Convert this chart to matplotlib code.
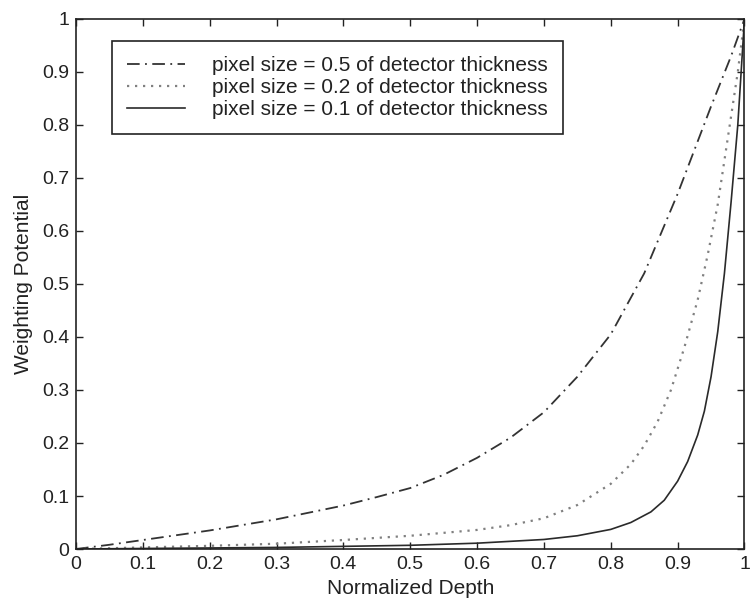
import matplotlib
matplotlib.use('Agg')
import matplotlib.pyplot as plt

# weighting potential vs normalized depth
depth_05 = [0, 0.05, 0.1, 0.2, 0.3, 0.4, 0.45, 0.5, 0.55, 0.6, 0.65, 0.7, 0.75, 0.8, 0.85, 0.9, 0.95, 0.98, 1.0]
pot_05 = [0, 0.008, 0.017, 0.035, 0.056, 0.082, 0.098, 0.115, 0.14, 0.172, 0.21, 0.258, 0.325, 0.405, 0.52, 0.67, 0.835, 0.93, 1.0]

depth_02 = [0, 0.1, 0.2, 0.3, 0.4, 0.5, 0.6, 0.65, 0.7, 0.75, 0.8, 0.83, 0.85, 0.87, 0.89, 0.91, 0.93, 0.945, 0.96, 0.975, 0.99, 1.0]
pot_02 = [0, 0.003, 0.006, 0.01, 0.017, 0.025, 0.036, 0.045, 0.058, 0.083, 0.123, 0.16, 0.195, 0.24, 0.3, 0.38, 0.47, 0.555, 0.65, 0.775, 0.9, 1.0]

depth_01 = [0, 0.3, 0.5, 0.6, 0.7, 0.75, 0.8, 0.83, 0.86, 0.88, 0.9, 0.915, 0.93, 0.94, 0.95, 0.96, 0.97, 0.98, 0.99, 1.0]
pot_01 = [0, 0.003, 0.007, 0.011, 0.018, 0.025, 0.037, 0.05, 0.07, 0.092, 0.128, 0.165, 0.215, 0.26, 0.325, 0.41, 0.52, 0.655, 0.8, 1.0]

labels = ['pixel size = 0.5 of detector thickness',
          'pixel size = 0.2 of detector thickness',
          'pixel size = 0.1 of detector thickness']
xticks = [0, 0.1, 0.2, 0.3, 0.4, 0.5, 0.6, 0.7, 0.8, 0.9, 1]
xticklabels = ['0', '0.1', '0.2', '0.3', '0.4', '0.5', '0.6', '0.7', '0.8', '0.9', '1']
yticks = [0, 0.1, 0.2, 0.3, 0.4, 0.5, 0.6, 0.7, 0.8, 0.9, 1]
yticklabels = ['0', '0.1', '0.2', '0.3', '0.4', '0.5', '0.6', '0.7', '0.8', '0.9', '1']

plt.rcParams['font.family'] = ['Liberation Sans', 'DejaVu Sans']

fig = plt.figure(figsize=(7.52, 6.01), dpi=100)
ax = fig.add_axes([0.101, 0.0865, 0.889, 0.882])

ax.plot(depth_05, pot_05, color='#333333', lw=1.3, linestyle=(0, (7, 3, 1, 3)), label=labels[0])
ax.plot(depth_02, pot_02, color='#808080', lw=1.6, linestyle=(0, (1, 2.6)), label=labels[1])
ax.plot(depth_01, pot_01, color='#2a2a2a', lw=1.2, linestyle='-', label=labels[2])

ax.set_xlim(0, 1)
ax.set_ylim(0, 1)
ax.set_xticks(xticks)
ax.set_xticklabels(xticklabels)
ax.set_yticks(yticks)
ax.set_yticklabels(yticklabels)
ax.tick_params(direction='in', top=True, right=True, length=5, width=1,
               labelsize=14, colors='#222222', pad=5)
for s in ax.spines.values():
    s.set_linewidth(1.2)
    s.set_color('#222222')

ax.set_xlabel('Normalized Depth', fontsize=15, color='#222222', labelpad=4)
ax.set_ylabel('Weighting Potential', fontsize=15, color='#222222', labelpad=6)

leg = ax.legend(loc='upper left', bbox_to_anchor=(0.054, 0.958), borderaxespad=0,
                fontsize=15, fancybox=False, edgecolor='#222222', framealpha=1,
                handlelength=2.8, handletextpad=1.3, labelspacing=0.14, borderpad=0.72)
leg.get_frame().set_linewidth(1.2)
for t in leg.get_texts():
    t.set_color('#222222')

fig.savefig('out.png', dpi=100)
